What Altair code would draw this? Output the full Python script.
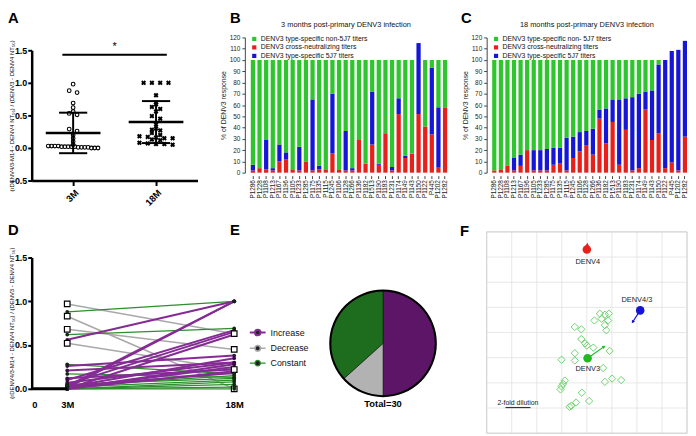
import altair as alt
import numpy as np
import pandas as pd

FONT = "Liberation Sans"

# ---------------- Panel A data ----------------
a_groups = ["3M", "18M"]
a_3m = [0.98, 0.88, 0.85, 0.69, 0.62, 0.56, 0.53, 0.51, 0.29, 0.26, 0.20, 0.15, 0.10, 0.05,
        0.03, 0.03, 0.03, 0.03, 0.02, 0.02, 0.02, 0.02, 0.02, 0.01, 0.01, 0.01, 0.01, 0.00, 0.00, 0.00]
a_18m = [1.0, 1.0, 1.0, 1.0, 0.81, 0.70, 0.67, 0.63, 0.60, 0.56, 0.49, 0.45, 0.36, 0.30, 0.28,
         0.27, 0.23, 0.20, 0.18, 0.17, 0.16, 0.15, 0.15, 0.13, 0.12, 0.08, 0.07, 0.06, 0.06, 0.05]
a_sig_x = [0.37, 1.63]
a_sig_y = 1.43
a_star_y = 1.55
y_title = "(rDENV4/3-M14 - DENV4 NT\u2085\u2080) / (DENV3 - DENV4 NT\u2085\u2080)"

# ---------------- Panels B / C data ----------------
patients = ["P1286", "P1228", "P1108", "P1213", "P1167", "P1196", "P1105", "P1233", "P1285", "P1175",
            "P1135", "P1115", "P1245", "P1106", "P1128", "P1266", "P1136", "P1182", "P1513", "P1190",
            "P1183", "P1231", "P1174", "P1149", "P1143", "P1150", "P1122", "P445", "P1202", "P1282"]
b_cross = [2, 4, 3, 2, 10, 12, 3, 2, 10, 2, 3, 3, 17, 3, 2, 2, 29, 8, 25, 7,
           35, 2, 52, 13, 17, 52, 41, 34, 5, 58]
b_5j7 = [5, 0, 26, 2, 15, 6, 0, 21, 0, 63, 3, 0, 53, 0, 35, 2, 0, 0, 47, 1,
         0, 3, 14, 2, 0, 63, 0, 59, 53, 0]
c_cross = [2, 3, 6, 2, 6, 20, 2, 2, 2, 7, 8, 2, 13, 19, 24, 16, 48, 26, 45, 7,
           38, 2, 4, 56, 29, 35, 4, 9, 2, 32]
c_5j7 = [0, 0, 0, 11, 10, 0, 18, 18, 19, 15, 14, 29, 19, 17, 13, 23, 8, 31, 20, 58,
         28, 65, 66, 16, 44, 61, 96, 99, 107, 85]
b_labels = ["DENV3 type-specific non-5J7 titers", "DENV3 cross-neutralizing  titers",
            "DENV3 type-specific 5J7  titers"]
c_labels = ["DENV3 type-specific non- 5J7 titers", "DENV3 cross-neutralizing  titers",
            "DENV3 type-specific 5J7  titers"]
b_title = "3 months post-primary DENV3 infection"
c_title = "18 months post-primary DENV3 infection"
bar_colors = ["#2ec52e", "#e8201c", "#1616d8"]

# ---------------- Panel D / E data ----------------
d_cats = ["Increase", "Decrease", "Constant"]
d_start = [0.97, 0.83, 0.68, 0.52,
           0.88, 0.62, 0.28, 0.17, 0.00, 0.00, 0.02, 0.05, 0.00, 0.03, 0.00,
           0.56, 0.01, 0.03, 0.26, 0.21, 0.10, 0.05, 0.00, 0.02, 0.00, 0.01, 0.00, 0.03, 0.12, 0.07]
d_end = [0.63, 0.00, 0.45, 0.22,
         1.00, 0.69, 0.17, 0.13, 0.00, 0.05, 0.10, 0.12, 0.08, 0.15, 0.02,
         1.00, 1.00, 1.00, 0.38, 0.30, 0.67, 0.65, 0.62, 0.35, 0.28, 0.25, 0.20, 0.18, 0.22, 0.30]
d_cat = ["Decrease"] * 4 + ["Constant"] * 11 + ["Increase"] * 15
d_times = [1.0, 5.7]
d_line_colors = ["#852c94", "#a9a9a9", "#2b8f2b"]
e_counts = [15, 4, 11]
e_colors = ["#5d1567", "#b2b2b2", "#1e6c1e"]

# ---------------- Panel F data ----------------
f_dx = [4.52, 4.72, 4.88, 4.30, 4.59, 4.85, 4.72, 4.78, 3.52, 3.78, 3.78, 3.93, 4.00, 4.26, 4.91,
        3.52, 2.99, 3.52, 4.65, 4.72, 5.01, 5.37, 3.12, 3.05, 2.99, 2.95, 3.80, 4.09, 3.57, 3.38, 3.31]
f_dy = [3.25, 3.29, 3.25, 3.52, 3.45, 3.52, 3.71, 3.91, 3.78, 3.87, 4.26, 4.43, 4.52, 4.60, 4.73,
        4.82, 5.08, 5.11, 5.41, 5.96, 5.83, 5.89, 5.91, 6.04, 6.14, 6.26, 6.39, 6.72, 6.78, 6.91, 6.95]
f_names = ["DENV4", "DENV4/3", "DENV3"]
f_ax = [4.00, 6.13, 4.03]
f_ay = [0.70, 3.12, 5.02]
f_ex = [4.02, 5.83, 4.69]
f_ey = [0.50, 3.58, 4.56]
f_lx = [4.04, 6.00, 4.04]
f_ly = [1.18, 2.72, 5.45]
f_colors = ["#e8201c", "#1414d6", "#22b822"]
f_grid = list(range(9))
f_bar_x = [0.75, 1.75]
f_bar_y = 6.98
f_bar_label = "2-fold dilution"

one = pd.DataFrame({"z": [0]})


def letter(t, dx, dy):
    return alt.Chart(one).mark_text(text=t, fontSize=15, fontWeight="bold", align="left",
                                    baseline="top", color="black").encode(
        x=alt.value(dx), y=alt.value(dy))


def spacer(w, h):
    return alt.Chart(one).mark_point(opacity=0).encode(
        x=alt.value(0), y=alt.value(0)).properties(width=w, height=h)


# ================= Panel A =================
a_df = pd.DataFrame({"group": [a_groups[0]] * len(a_3m) + [a_groups[1]] * len(a_18m),
                     "value": a_3m + a_18m})
a_center = f"datum.group == '{a_groups[0]}' ? 0.5 : 1.5"
a_xs = alt.Scale(domain=[0, 2], nice=False, zero=False)
a_ys = alt.Scale(domain=[-0.5, 1.5], nice=False, zero=False, range=[145, 13])
a_xaxis = alt.Axis(values=[0.5, 1.5],
                   labelExpr=f"datum.value == 0.5 ? '{a_groups[0]}' : '{a_groups[1]}'",
                   labelAngle=-45, labelFontWeight="bold", labelFontSize=9.5, labelColor="black",
                   tickSize=5, tickWidth=2, tickColor="black", domainColor="black", domainWidth=2.5,
                   grid=False, title=None, labelPadding=2)
a_yaxis = alt.Axis(values=[-0.5, 0, 0.5, 1.0, 1.5], format=".1f", labelFontWeight="bold",
                   labelFontSize=9, labelColor="black", tickSize=4, tickWidth=2, tickColor="black",
                   domainColor="black", domainWidth=2.5, grid=False, labelPadding=1,
                   title=y_title, titleFontSize=6, titleFontWeight="normal", titleX=-17,
                   titleY=79, titleColor="black")

pts = alt.Chart(a_df).transform_calculate(
    c=a_center, b="floor(datum.value / 0.05 + 0.000001)"
).transform_window(
    rk="row_number()", groupby=["group", "b"], sort=[alt.SortField("value", order="descending")]
).transform_joinaggregate(
    n="count()", groupby=["group", "b"]
).transform_calculate(
    sp=f"datum.group == '{a_groups[0]}' ? (datum.b == 0 ? 0.04 : 0.095) : 0.1",
    xp="datum.c + (datum.rk - (datum.n + 1) / 2) * datum.sp",
)
circles = pts.transform_filter(f"datum.group == '{a_groups[0]}'").mark_point(
    shape="circle", filled=False, color="black", size=14, strokeWidth=1.1, opacity=1
).encode(x=alt.X("xp:Q", scale=a_xs, axis=a_xaxis), y=alt.Y("value:Q", scale=a_ys, axis=a_yaxis))
crosses = pts.transform_filter(f"datum.group == '{a_groups[1]}'").mark_point(
    shape="cross", angle=45, filled=True, color="black", size=26, opacity=1
).encode(x=alt.X("xp:Q", scale=a_xs, axis=a_xaxis), y=alt.Y("value:Q", scale=a_ys, axis=a_yaxis))

stats = alt.Chart(a_df).transform_aggregate(
    m="mean(value)", sd="stdev(value)", groupby=["group"]
).transform_calculate(
    c=a_center, lo="datum.m - datum.sd", hi="datum.m + datum.sd",
    w1="datum.c - 0.33", w2="datum.c + 0.33", k1="datum.c - 0.17", k2="datum.c + 0.17",
)
vert = stats.mark_rule(color="black", strokeWidth=2).encode(
    x=alt.X("c:Q", scale=a_xs, axis=a_xaxis), y=alt.Y("lo:Q", scale=a_ys, axis=a_yaxis), y2="hi:Q")
meanl = stats.mark_rule(color="black", strokeWidth=2.5).encode(
    x=alt.X("w1:Q", scale=a_xs, axis=a_xaxis), x2="w2:Q", y=alt.Y("m:Q", scale=a_ys, axis=a_yaxis))
cap_lo = stats.mark_rule(color="black", strokeWidth=2).encode(
    x=alt.X("k1:Q", scale=a_xs, axis=a_xaxis), x2="k2:Q", y=alt.Y("lo:Q", scale=a_ys, axis=a_yaxis))
cap_hi = stats.mark_rule(color="black", strokeWidth=2).encode(
    x=alt.X("k1:Q", scale=a_xs, axis=a_xaxis), x2="k2:Q", y=alt.Y("hi:Q", scale=a_ys, axis=a_yaxis))
sig = alt.Chart(pd.DataFrame({"x": [a_sig_x[0]], "x2": [a_sig_x[1]], "y": [a_sig_y]})).mark_rule(
    color="black", strokeWidth=2).encode(
    x=alt.X("x:Q", scale=a_xs, axis=a_xaxis), x2="x2:Q", y=alt.Y("y:Q", scale=a_ys, axis=a_yaxis))
star = alt.Chart(pd.DataFrame({"x": [1.0], "y": [a_star_y], "t": ["*"]})).mark_text(
    fontSize=11, color="black").encode(
    x=alt.X("x:Q", scale=a_xs, axis=a_xaxis), y=alt.Y("y:Q", scale=a_ys, axis=a_yaxis), text="t:N")
chart_a = alt.layer(circles, crosses, vert, meanl, cap_lo, cap_hi, sig, star,
                    letter("A", -24, -27)).properties(width=168, height=145)


# ================= Panels B, C =================
def bar_panel(cross, j7, labels, title, q, width, let, ldx):
    rows = []
    for pid, cv, jv in zip(patients, cross, j7):
        rows.append({"pid": pid, "comp": labels[1], "val": cv, "o": 0})
        rows.append({"pid": pid, "comp": labels[2], "val": jv, "o": 1})
        rows.append({"pid": pid, "comp": labels[0], "val": max(0, 100 - cv - jv), "o": 2})
    df = pd.DataFrame(rows)
    bars = alt.Chart(df).mark_bar().encode(
        x=alt.X("pid:N", sort=patients,
                scale=alt.Scale(paddingInner=0.36, paddingOuter=q, align=1),
                axis=alt.Axis(labelAngle=-90, labelFontSize=6.5, labelColor="#222", tickSize=3,
                              tickColor="#444", domain=False, title=None, offset=3,
                              labelPadding=1)),
        y=alt.Y("val:Q", stack="zero", scale=alt.Scale(domain=[0, 120], nice=False),
                axis=alt.Axis(values=list(range(0, 121, 10)), labelFontSize=6.5,
                              labelColor="#222", tickSize=3, tickColor="#444",
                              domainColor="#444", grid=False, title="% of DENV3 response",
                              titleFontSize=7, titleFontWeight="normal", titleColor="#222",
                              labelPadding=2, titlePadding=3)),
        color=alt.Color("comp:N", scale=alt.Scale(domain=labels, range=bar_colors),
                        legend=alt.Legend(orient="none", legendX=6, legendY=-2, title=None,
                                          symbolType="square", symbolSize=18,
                                          symbolStrokeWidth=0, labelFontSize=7,
                                          labelColor="#111", rowPadding=0.6, labelOffset=3,
                                          labelLimit=300, padding=0)),
        order=alt.Order("o:Q"),
    )
    head = alt.Chart(one).mark_text(text=title, fontSize=7.5, color="#111",
                                    baseline="middle").encode(
        x=alt.value(width / 2), y=alt.value(-13))
    return alt.layer(bars, head, letter(let, ldx, -27)).properties(width=width, height=137)


chart_b = bar_panel(b_cross, b_5j7, b_labels, b_title, 0.447, 205, "B", -15)
chart_c = bar_panel(c_cross, c_5j7, c_labels, c_title, 0.42, 203, "C", -26)

# ================= Panel D =================
d_rows = []
for i, (s, e, c) in enumerate(zip(d_start, d_end, d_cat)):
    d_rows.append({"subj": i, "t": d_times[0], "v": s, "cat": c})
    d_rows.append({"subj": i, "t": d_times[1], "v": e, "cat": c})
d_df = pd.DataFrame(d_rows)
d_xs = alt.Scale(domain=[0, 6], nice=False, zero=False)
d_ys = alt.Scale(domain=[0, 1.5], nice=False, range=[211, 78])
d_xaxis = alt.Axis(values=[0] + d_times,
                   labelExpr="datum.value == 0 ? '0' : datum.value < 3 ? '3M' : '18M'",
                   labelFontWeight="bold", labelFontSize=9.5, labelColor="black", ticks=False,
                   domain=False, grid=False, title=None, labelPadding=11)
d_yaxis = alt.Axis(values=[0, 0.5, 1.0, 1.5], format=".1f", labelFontWeight="bold",
                   labelFontSize=9, labelColor="black", tickSize=4, tickWidth=2, tickColor="black",
                   domainColor="black", domainWidth=2.5, grid=False, labelPadding=1,
                   title=y_title, titleFontSize=6, titleFontWeight="normal", titleX=-17,
                   titleY=144, titleColor="black")
legend_sym = "M-1,0L-0.35,0M0.35,0L1,0M0.35,0A0.35,0.35,0,1,1,-0.35,0A0.35,0.35,0,1,1,0.35,0Z"
d_lines = alt.Chart(d_df).mark_line().encode(
    x=alt.X("t:Q", scale=d_xs, axis=d_xaxis),
    y=alt.Y("v:Q", scale=d_ys, axis=d_yaxis),
    detail="subj:N",
    color=alt.Color("cat:N", scale=alt.Scale(domain=d_cats, range=d_line_colors),
                    legend=alt.Legend(orient="none", legendX=220, legendY=145, title=None,
                                      symbolType=legend_sym, symbolSize=256,
                                      symbolStrokeWidth=2.2, symbolFillColor="#222",
                                      labelFontSize=9,
                                      labelColor="#111", rowPadding=0, labelOffset=4,
                                      padding=0)),
    strokeWidth=alt.StrokeWidth("cat:N", scale=alt.Scale(domain=d_cats, range=[2.0, 1.2, 1.4]),
                                legend=None),
)


def d_marks(cat, **kw):
    return alt.Chart(d_df).transform_filter(f"datum.cat == '{cat}'").mark_point(
        opacity=1, **kw).encode(x=alt.X("t:Q", scale=d_xs, axis=d_xaxis),
                                y=alt.Y("v:Q", scale=d_ys, axis=d_yaxis))


d_inc = d_marks(d_cats[0], shape="circle", filled=True, color="#3a0a45", size=14)
d_dec = d_marks(d_cats[1], shape="square", filled=True, fill="white", stroke="black",
                strokeWidth=1.2, size=32)
d_con = d_marks(d_cats[2], shape="circle", filled=True, color="#102810", size=14)
d_seg = alt.Chart(pd.DataFrame({"x": [0.0], "x2": [d_times[0]], "y": [0.0]})).mark_rule(
    color="black", strokeWidth=3).encode(
    x=alt.X("x:Q", scale=d_xs, axis=d_xaxis), x2="x2:Q", y=alt.Y("y:Q", scale=d_ys, axis=d_yaxis))
chart_d = alt.layer(d_lines, d_inc, d_dec, d_con, d_seg, letter("D", -24, 43)).properties(
    width=216, height=211)

# ================= Panel E =================
E_CX, E_CY, E_R = 140, 165, 53
e_df = pd.DataFrame({"cat": d_cats, "n": e_counts, "k": list(range(len(d_cats)))})
pie = alt.Chart(e_df).mark_arc(radius=E_R, stroke="black", strokeWidth=0.5).encode(
    theta=alt.Theta("n:Q", stack=True),
    color=alt.Color("cat:N", scale=alt.Scale(domain=d_cats, range=e_colors), legend=None),
    order=alt.Order("k:Q"),
    x=alt.value(E_CX), y=alt.value(E_CY),
)
ring = alt.Chart(one).mark_arc(radius=E_R + 1.5, radius2=E_R - 0.5, theta=0, theta2=6.2832,
                               color="black").encode(x=alt.value(E_CX), y=alt.value(E_CY))
total = alt.Chart(one).mark_text(text=f"Total={sum(e_counts)}", fontSize=9.5, fontWeight="bold",
                                 color="black", baseline="middle").encode(
    x=alt.value(E_CX), y=alt.value(E_CY + E_R + 8))
chart_e = alt.layer(pie, ring, total, letter("E", -15, 43)).properties(width=205, height=211)

# ================= Panel F =================
f_xs = alt.Scale(domain=[0, 8], nice=False, zero=False)
f_ys = alt.Scale(domain=[0, 8], nice=False, zero=False, range=[52, 256])
grid_df = pd.DataFrame({"g": f_grid, "lo": [f_grid[0]] * len(f_grid), "hi": [f_grid[-1]] * len(f_grid)})
f_vgrid = alt.Chart(grid_df).mark_rule(color="#e2e2e2", strokeWidth=0.8).encode(
    x=alt.X("g:Q", scale=f_xs, axis=None), y=alt.Y("lo:Q", scale=f_ys, axis=None), y2="hi:Q")
f_hgrid = alt.Chart(grid_df).mark_rule(color="#e2e2e2", strokeWidth=0.8).encode(
    y=alt.Y("g:Q", scale=f_ys, axis=None), x=alt.X("lo:Q", scale=f_xs, axis=None), x2="hi:Q")
f_border = alt.Chart(grid_df.head(1)).mark_rect(fill=None, stroke="#cfcfcf", strokeWidth=1).encode(
    x=alt.X("lo:Q", scale=f_xs, axis=None), x2="hi:Q",
    y=alt.Y("lo:Q", scale=f_ys, axis=None), y2="hi:Q")
f_sera = alt.Chart(pd.DataFrame({"x": f_dx, "y": f_dy})).mark_point(
    shape="diamond", filled=False, color="#5fcf5f", size=55, strokeWidth=0.9, opacity=1
).encode(x=alt.X("x:Q", scale=f_xs, axis=None), y=alt.Y("y:Q", scale=f_ys, axis=None))
ag_df = pd.DataFrame({"name": f_names, "x": f_ax, "y": f_ay, "ex": f_ex, "ey": f_ey,
                      "lx": f_lx, "ly": f_ly})
ag_df["ang"] = np.degrees(np.arctan2(ag_df["ex"] - ag_df["x"], -(ag_df["ey"] - ag_df["y"])))
ag_color = alt.Color("name:N", scale=alt.Scale(domain=f_names, range=f_colors), legend=None)
f_arrows = alt.Chart(ag_df).mark_rule(strokeWidth=1.2).encode(
    x=alt.X("x:Q", scale=f_xs, axis=None), y=alt.Y("y:Q", scale=f_ys, axis=None),
    x2="ex:Q", y2="ey:Q", color=ag_color)
f_heads = alt.Chart(ag_df).mark_point(shape="triangle-up", filled=True, size=14, opacity=1).encode(
    x=alt.X("ex:Q", scale=f_xs, axis=None), y=alt.Y("ey:Q", scale=f_ys, axis=None),
    angle=alt.Angle("ang:Q", scale=None), color=ag_color)
f_ags = alt.Chart(ag_df).mark_point(shape="circle", filled=True, size=75, opacity=1).encode(
    x=alt.X("x:Q", scale=f_xs, axis=None), y=alt.Y("y:Q", scale=f_ys, axis=None),
    color=ag_color)
f_text = alt.Chart(ag_df).mark_text(fontSize=7.5, color="#222").encode(
    x=alt.X("lx:Q", scale=f_xs, axis=None), y=alt.Y("ly:Q", scale=f_ys, axis=None),
    text="name:N")
sb_df = pd.DataFrame({"x": [f_bar_x[0]], "x2": [f_bar_x[1]], "y": [f_bar_y],
                      "t": [f_bar_label], "xm": [sum(f_bar_x) / 2]})
f_sbar = alt.Chart(sb_df).mark_rule(color="#333", strokeWidth=1.2).encode(
    x=alt.X("x:Q", scale=f_xs, axis=None), x2="x2:Q", y=alt.Y("y:Q", scale=f_ys, axis=None))
f_sbar_lbl = alt.Chart(sb_df).mark_text(fontSize=7, color="#222", baseline="bottom", dy=-2).encode(
    x=alt.X("xm:Q", scale=f_xs, axis=None), y=alt.Y("y:Q", scale=f_ys, axis=None), text="t:N")
chart_f = alt.layer(f_vgrid, f_hgrid, f_border, f_sera, f_arrows, f_heads, f_ags, f_text,
                    f_sbar, f_sbar_lbl, letter("F", -27, 44)).properties(width=203, height=256)

# ================= Layout: 2 rows x 4 columns =================
cells = [chart_a, chart_b, spacer(40, 1), chart_c,
         chart_d, chart_e, spacer(40, 1), chart_f]

chart = alt.concat(
    *cells, columns=4, spacing=0, bounds="flush", align="each",
).resolve_scale(
    color="independent", strokeWidth="independent", shape="independent"
).properties(padding=0).configure(font=FONT).configure_view(stroke=None)

chart.save("out.html", embed_options={"renderer": "svg", "actions": False})
